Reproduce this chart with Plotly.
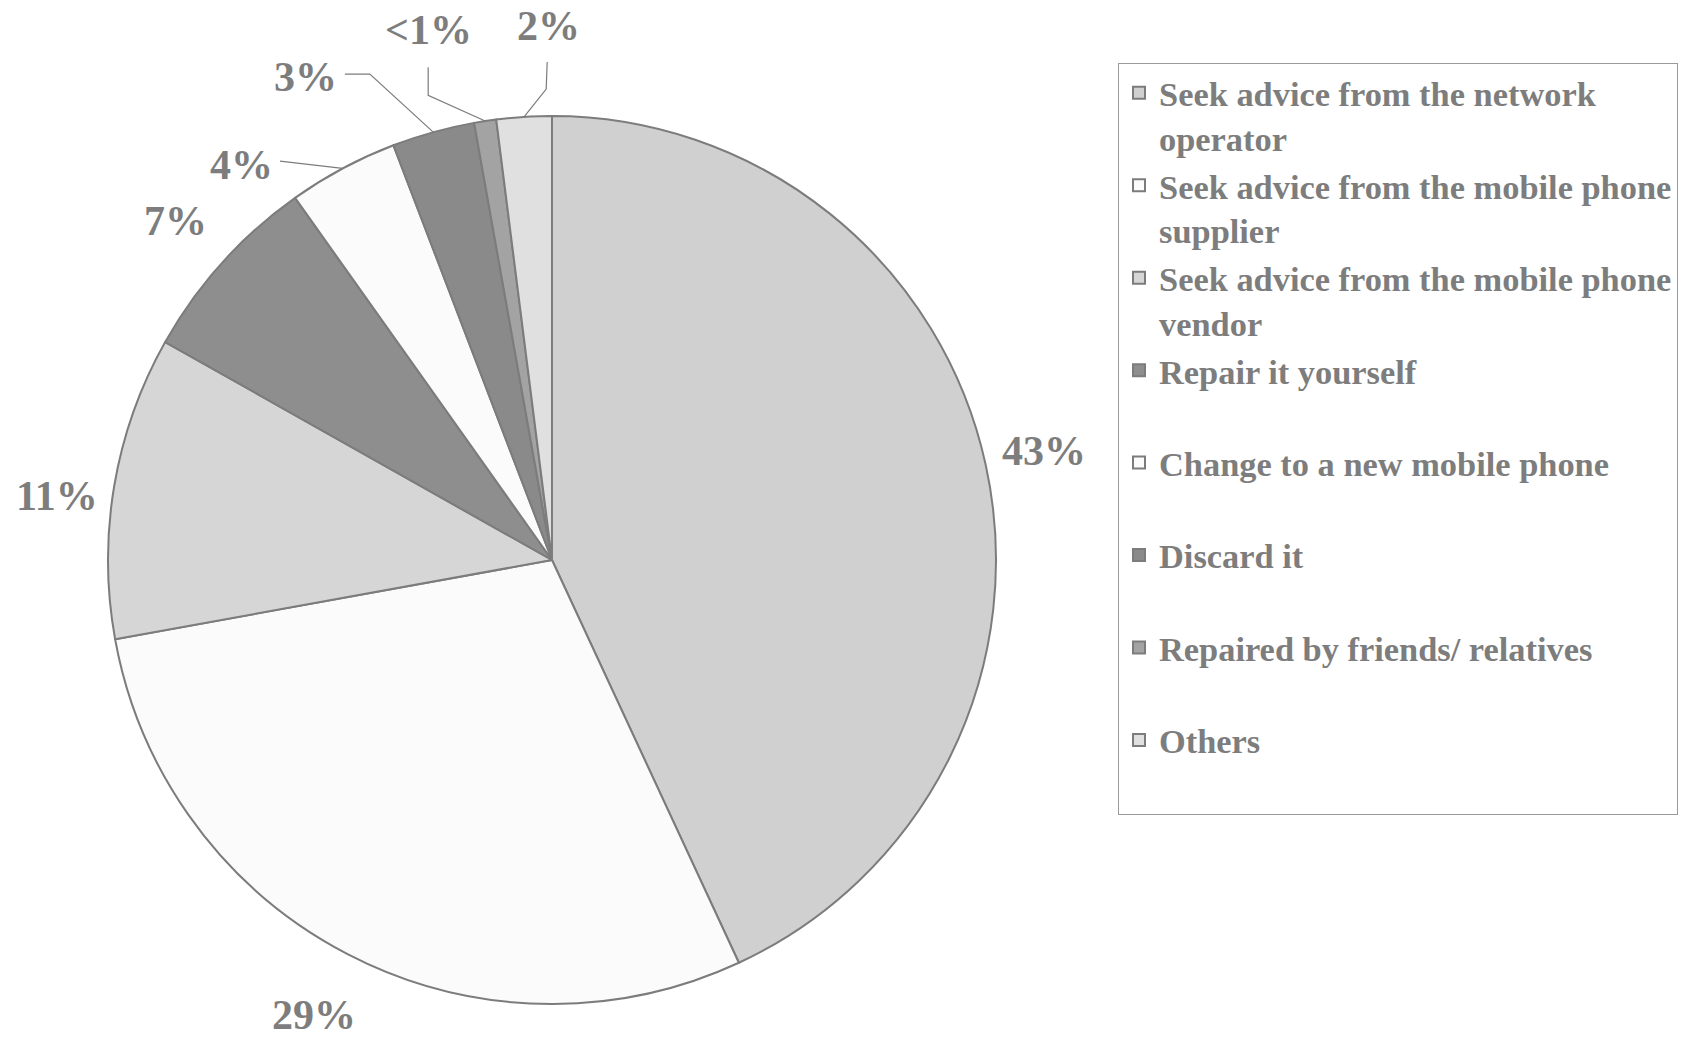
import math
import plotly.graph_objects as go

# ---- data -------------------------------------------------------------
categories = [
    "Seek advice from the network operator",
    "Seek advice from the mobile phone supplier",
    "Seek advice from the mobile phone vendor",
    "Repair it yourself",
    "Change to a new mobile phone",
    "Discard it",
    "Repaired by friends/ relatives",
    "Others",
]
legend_text = [
    "Seek advice from the network<br>operator",
    "Seek advice from the mobile phone<br>supplier",
    "Seek advice from the mobile phone<br>vendor",
    "Repair it yourself<br> ",
    "Change to a new mobile phone<br> ",
    "Discard it<br> ",
    "Repaired by friends/ relatives<br> ",
    "Others<br> ",
]
shares = [43, 29, 11, 7, 4, 3, 0.8, 2]
share_labels = ["43%", "29%", "11%", "7%", "4%", "3%", "<1%", "2%"]

# ---- styling ----------------------------------------------------------
fills = ["#d0d0d0", "#fbfbfb", "#d6d6d6", "#8e8e8e",
         "#fbfbfb", "#8a8a8a", "#a3a3a3", "#e0e0e0"]
edge_col = "#7c7c7c"
text_col = "#7d7d7d"
serif = "Liberation Serif"

W, H = 1696, 1042
CX, CY, R = 552, 560, 444          # pie centre and radius in pixels

# label placement: radial distance from centre and angular nudge (deg)
label_dist = [504, 513, 499, 507, 502, 542, 544, 534]
label_nudge = [0.0, 0.2, -2.2, 0.0, -10.0, -11.5, -4.5, 3.2]
# leader-line waypoints, as pixel offsets from the label centre
leaders = {
    4: [(38, -4)],
    5: [(39, -3), (64, -3)],
    6: [(0, 37), (0, 65)],
    7: [(-1, 36), (-2, 63)],
}


def px(x):
    return x / W


def py(y):
    return 1 - y / H


def polar(theta_deg, r):
    t = math.radians(theta_deg)
    return CX + r * math.sin(t), CY - r * math.cos(t)


# slice mid-angles, clockwise from 12 o'clock
total = sum(shares)
mids = []
acc = 0.0
for v in shares:
    mids.append(360 * (acc + v / 2) / total)
    acc += v

fig = go.Figure(
    go.Pie(
        labels=legend_text,
        values=shares,
        sort=False,
        direction="clockwise",
        rotation=0,
        textinfo="none",
        hoverinfo="label+percent",
        marker=dict(colors=fills, line=dict(color=edge_col, width=2)),
        domain=dict(x=[px(CX - R), px(CX + R)],
                    y=[py(CY + R), py(CY - R)]),
    )
)

annotations = []
shapes = []
for i, lab in enumerate(share_labels):
    lx, ly = polar(mids[i] + label_nudge[i], label_dist[i])
    annotations.append(dict(
        x=px(lx), y=py(ly), xref="paper", yref="paper",
        text=lab, showarrow=False, xanchor="center", yanchor="middle",
        font=dict(family=serif, size=42, color=text_col, weight="bold"),
    ))
    if i in leaders:
        pts = [(lx + dx, ly + dy) for dx, dy in leaders[i]]
        pts.append(polar(mids[i], R))
        path = "M " + " L ".join(f"{px(x):.5f},{py(y):.5f}" for x, y in pts)
        shapes.append(dict(type="path", path=path, xref="paper", yref="paper",
                           line=dict(color=edge_col, width=1.2)))

fig.update_layout(
    width=W, height=H,
    margin=dict(l=0, r=0, t=0, b=0, autoexpand=False),
    paper_bgcolor="white", plot_bgcolor="white",
    annotations=annotations, shapes=shapes,
    showlegend=True,
    legend=dict(
        x=px(1118), y=py(63), xanchor="left", yanchor="top",
        valign="top", traceorder="normal",
        bgcolor="white", bordercolor="#9a9a9a", borderwidth=1,
        font=dict(family=serif, size=34.4, color=text_col, weight="bold"),
    ),
)

fig.write_html("out.html")
